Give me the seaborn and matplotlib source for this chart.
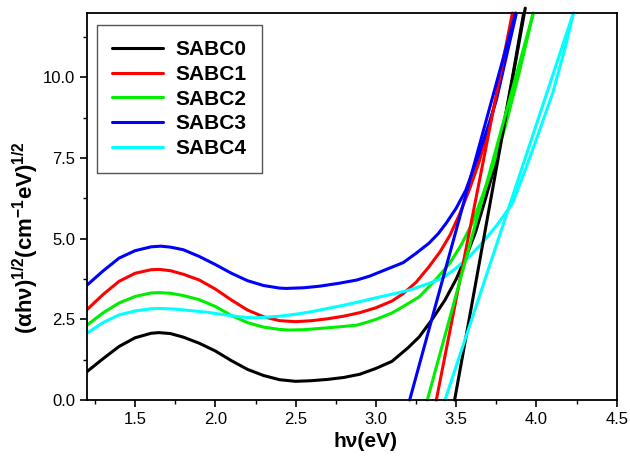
"""Tauc plot of the SABC samples with linear band-gap fits."""

import matplotlib

matplotlib.use("Agg")
import matplotlib.pyplot as plt
import pandas as pd
import seaborn as sns
from matplotlib.ticker import MultipleLocator

SAMPLES = ["SABC0", "SABC1", "SABC2", "SABC3", "SABC4"]
COLORS = ["#000000", "#ff0000", "#00ee00", "#0000ff", "#00ffff"]

sabc0_x = [1.20, 1.30, 1.40, 1.50, 1.60, 1.65, 1.72, 1.80, 1.90, 2.00, 2.10, 2.20, 2.30, 2.40, 2.50,
           2.60, 2.70, 2.80, 2.90, 3.00, 3.10, 3.20, 3.27, 3.35, 3.43, 3.50, 3.57, 3.62, 3.68, 3.745,
           3.79, 3.85, 3.92]
sabc0_y = [0.88, 1.28, 1.66, 1.93, 2.07, 2.09, 2.06, 1.95, 1.76, 1.52, 1.22, 0.95, 0.76, 0.63, 0.58,
           0.60, 0.64, 0.70, 0.80, 0.98, 1.20, 1.62, 1.96, 2.50, 3.10, 3.75, 4.55, 5.20, 6.20, 7.34,
           8.37, 10.0, 12.0]

sabc1_x = [1.20, 1.30, 1.40, 1.50, 1.60, 1.65, 1.72, 1.80, 1.90, 2.00, 2.10, 2.20, 2.30, 2.40, 2.50,
           2.60, 2.70, 2.80, 2.90, 3.00, 3.10, 3.17, 3.25, 3.33, 3.40, 3.46, 3.52, 3.58, 3.64, 3.70,
           3.78, 3.86]
sabc1_y = [2.80, 3.27, 3.68, 3.93, 4.04, 4.05, 4.01, 3.90, 3.72, 3.44, 3.10, 2.79, 2.58, 2.46, 2.43,
           2.46, 2.52, 2.60, 2.71, 2.86, 3.07, 3.30, 3.65, 4.13, 4.60, 5.10, 5.75, 6.50, 7.34, 8.37,
           10.0, 12.0]

sabc2_x = [1.20, 1.30, 1.40, 1.50, 1.60, 1.65, 1.72, 1.80, 1.90, 2.00, 2.10, 2.20, 2.30, 2.40, 2.46,
           2.55, 2.65, 2.75, 2.88, 2.95, 3.00, 3.10, 3.17, 3.27, 3.37, 3.46, 3.53, 3.60, 3.65, 3.70,
           3.80, 3.89, 3.98]
sabc2_y = [2.32, 2.70, 3.01, 3.21, 3.32, 3.33, 3.31, 3.24, 3.11, 2.90, 2.62, 2.40, 2.26, 2.19, 2.17,
           2.18, 2.22, 2.26, 2.32, 2.42, 2.50, 2.70, 2.90, 3.20, 3.72, 4.24, 4.80, 5.48, 6.15, 6.82,
           8.37, 10.1, 12.0]

sabc3_x = [1.20, 1.30, 1.40, 1.50, 1.60, 1.66, 1.72, 1.80, 1.90, 2.00, 2.10, 2.20, 2.30, 2.40, 2.44,
           2.55, 2.65, 2.77, 2.88, 2.96, 3.08, 3.17, 3.25, 3.33, 3.39, 3.44, 3.50, 3.56, 3.64, 3.70,
           3.75, 3.81, 3.875]
sabc3_y = [3.56, 4.00, 4.40, 4.63, 4.75, 4.77, 4.74, 4.66, 4.45, 4.20, 3.93, 3.70, 3.55, 3.47, 3.46,
           3.48, 3.53, 3.62, 3.72, 3.84, 4.08, 4.26, 4.55, 4.86, 5.17, 5.50, 5.95, 6.51, 7.60, 8.50,
           9.30, 10.6, 12.0]

sabc4_x = [1.20, 1.30, 1.40, 1.50, 1.60, 1.65, 1.75, 1.85, 1.95, 2.05, 2.15, 2.23, 2.30, 2.40, 2.50,
           2.60, 2.70, 2.80, 2.90, 3.00, 3.10, 3.21, 3.31, 3.41, 3.49, 3.58, 3.66, 3.75, 3.85, 3.92,
           3.99, 4.05, 4.10, 4.18, 4.23]
sabc4_y = [2.07, 2.40, 2.64, 2.76, 2.83, 2.84, 2.82, 2.77, 2.72, 2.65, 2.58, 2.55, 2.56, 2.60, 2.66,
           2.74, 2.84, 2.94, 3.05, 3.17, 3.28, 3.41, 3.58, 3.77, 4.05, 4.44, 4.86, 5.40, 6.09, 7.00,
           7.95, 8.80, 9.50, 10.95, 12.0]

# linear fits: x at zero (band gap) and x / y at the upper end
fit_x0 = [3.49, 3.376, 3.32, 3.21, 3.43]
fit_x1 = [3.93, 3.85, 3.98, 3.87, 4.23]
fit_y1 = [12.15, 12.0, 12.0, 12.0, 12.0]

X_TICKS = [1.5, 2.0, 2.5, 3.0, 3.5, 4.0, 4.5]
Y_TICKS = [0.0, 2.5, 5.0, 7.5, 10.0]


def build_frames() -> tuple[pd.DataFrame, pd.DataFrame]:
    curves_x = [sabc0_x, sabc1_x, sabc2_x, sabc3_x, sabc4_x]
    curves_y = [sabc0_y, sabc1_y, sabc2_y, sabc3_y, sabc4_y]
    rows = []
    for name, xs, ys in zip(SAMPLES, curves_x, curves_y):
        for x, y in zip(xs, ys):
            rows.append({"sample": name, "hv": x, "val": y})
    curves = pd.DataFrame(rows)

    fit_rows = []
    for name, x0, x1, y1 in zip(SAMPLES, fit_x0, fit_x1, fit_y1):
        fit_rows.append({"sample": name, "hv": x0, "val": 0.0})
        fit_rows.append({"sample": name, "hv": x1, "val": y1})
    fits = pd.DataFrame(fit_rows)
    return curves, fits


def main() -> None:
    sns.set_style("ticks")
    plt.rcParams["font.family"] = ["Liberation Sans", "DejaVu Sans"]
    plt.rcParams["text.color"] = "black"
    plt.rcParams["axes.labelcolor"] = "black"
    plt.rcParams["mathtext.fontset"] = "custom"
    plt.rcParams["mathtext.rm"] = "Liberation Sans"
    plt.rcParams["mathtext.bf"] = "Liberation Sans:bold"

    curves, fits = build_frames()
    palette = dict(zip(SAMPLES, COLORS))

    fig, ax = plt.subplots(figsize=(6.3, 4.63), dpi=100)
    fig.subplots_adjust(left=0.138, right=0.979, bottom=0.136, top=0.972)

    sns.lineplot(
        data=curves, x="hv", y="val", hue="sample", hue_order=SAMPLES,
        palette=palette, sort=False, estimator=None, units="sample",
        linewidth=2.2, ax=ax,
    )
    sns.lineplot(
        data=fits, x="hv", y="val", hue="sample", hue_order=SAMPLES,
        palette=palette, sort=False, estimator=None, units="sample",
        linewidth=2.2, legend=False, ax=ax,
    )
    for line in ax.lines[len(SAMPLES):]:
        line.set_clip_on(False)

    ax.set_xlim(1.2, 4.5)
    ax.set_ylim(0, 12)
    ax.set_xticks(X_TICKS)
    ax.set_yticks(Y_TICKS)
    ax.xaxis.set_minor_locator(MultipleLocator(0.25))
    ax.yaxis.set_minor_locator(MultipleLocator(1.25))
    ax.tick_params(which="major", direction="out", length=5, width=1.2,
                   labelsize=12, color="black", labelcolor="black")
    ax.tick_params(which="minor", direction="out", length=3, width=1.0, color="black")
    for spine in ax.spines.values():
        spine.set_visible(True)
        spine.set_linewidth(1.3)
        spine.set_color("black")

    ax.set_xlabel("h\u03bd(eV)", fontsize=15, fontweight="bold", color="black")
    ax.xaxis.set_label_coords(0.526, -0.083)
    ax.set_ylabel(
        "(\u03b1h\u03bd)$^{\\mathbf{1/2}}$(cm$^{\\mathbf{-1}}$eV)$^{\\mathbf{1/2}}$",
        fontsize=16, fontweight="bold", color="black",
    )
    ax.yaxis.set_label_coords(-0.087, 0.42)

    leg = ax.legend(
        loc="upper left", bbox_to_anchor=(0.019, 0.969), borderaxespad=0,
        frameon=True, fancybox=False, edgecolor="#555555", framealpha=1,
        prop={"weight": "bold", "size": 15}, handlelength=2.45,
        labelspacing=0.28, borderpad=0.72, handletextpad=0.6, title=None,
        labelcolor="black",
    )
    leg.get_frame().set_linewidth(1.0)

    fig.savefig("out.png", dpi=100)
    plt.close(fig)


if __name__ == "__main__":
    main()
